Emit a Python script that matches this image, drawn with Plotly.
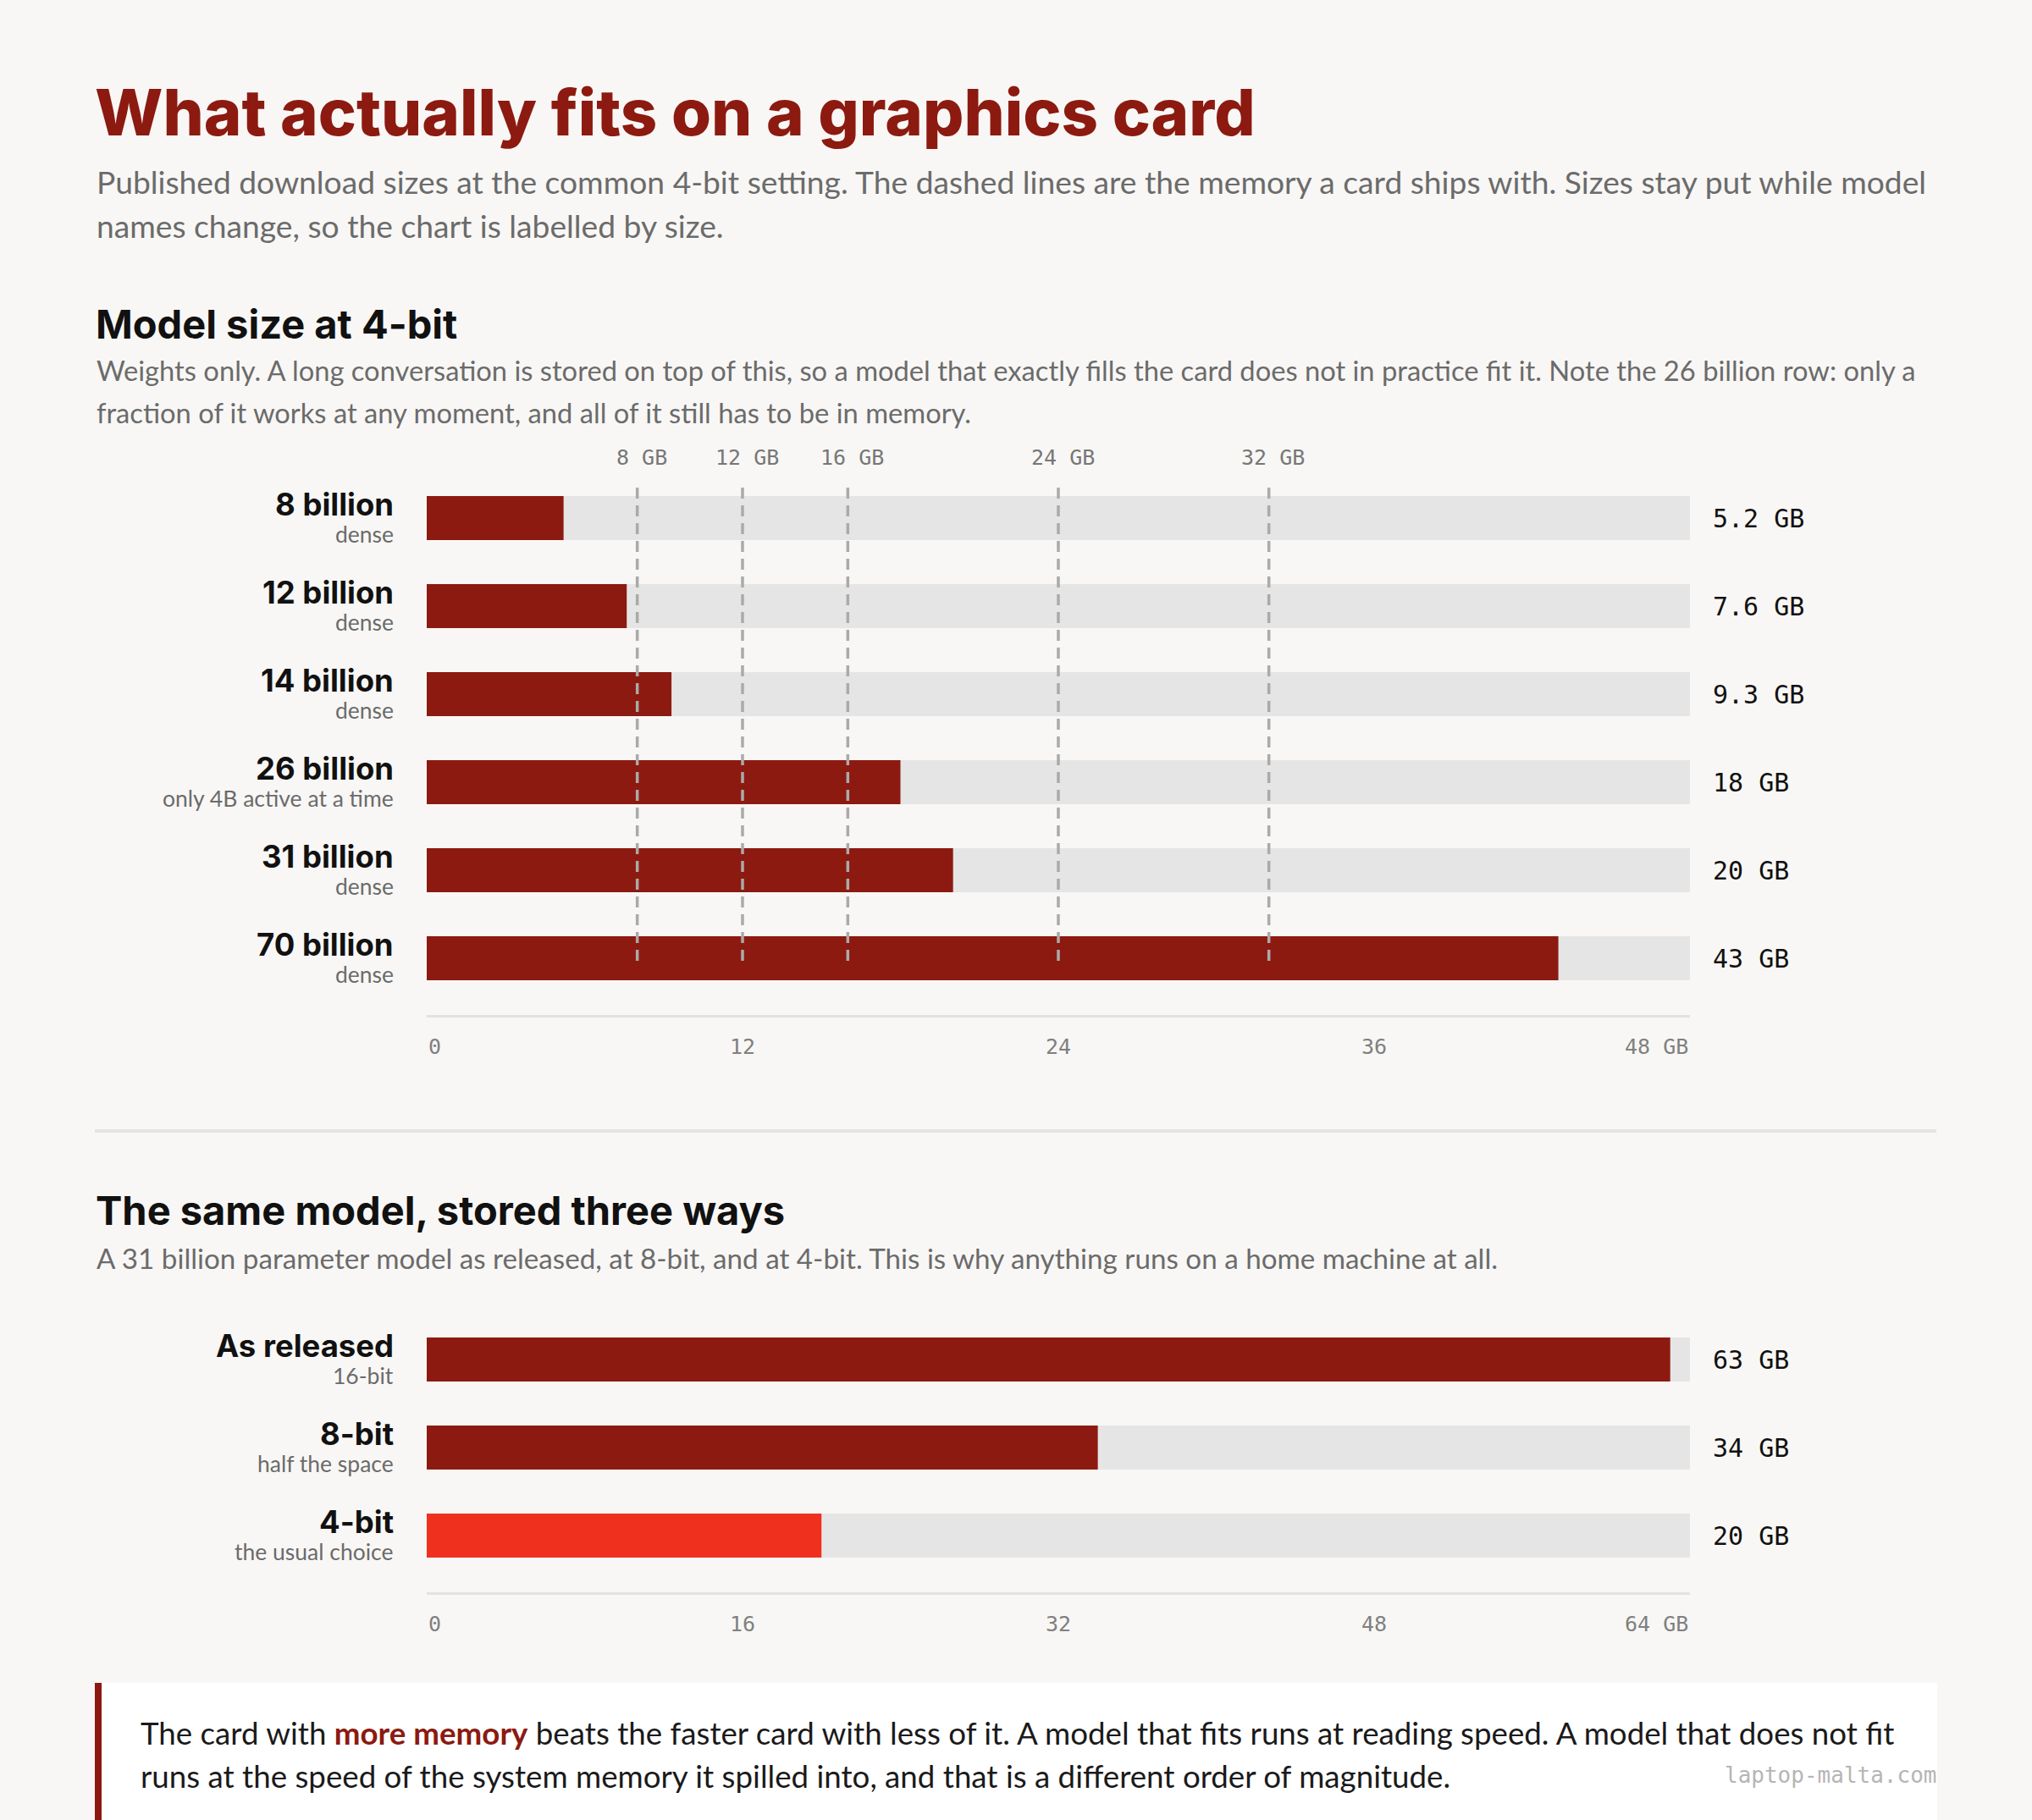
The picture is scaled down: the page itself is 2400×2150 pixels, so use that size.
import plotly.graph_objects as go

W, H = 2400, 2150
def X(r): return r / W
def Y(r): return 1 - r / H

# ---------------- data ----------------
sizes_labels = ["8 billion", "12 billion", "14 billion", "26 billion", "31 billion", "70 billion"]
sizes_notes = ["dense", "dense", "dense", "only 4B active at a time", "dense", "dense"]
sizes_gb = [5.2, 7.6, 9.3, 18, 20, 43]
sizes_text = ["5.2 GB", "7.6 GB", "9.3 GB", "18 GB", "20 GB", "43 GB"]
sizes_max = 48
sizes_ticks = [0, 12, 24, 36, 48]
sizes_ticktext = ["0", "12", "24", "36", "48 GB"]

card_gb = [8, 12, 16, 24, 32]
card_text = ["8 GB", "12 GB", "16 GB", "24 GB", "32 GB"]

prec_labels = ["As released", "8-bit", "4-bit"]
prec_notes = ["16-bit", "half the space", "the usual choice"]
prec_gb = [63, 34, 20]
prec_text = ["63 GB", "34 GB", "20 GB"]
prec_max = 64
prec_ticks = [0, 16, 32, 48, 64]
prec_ticktext = ["0", "16", "32", "48", "64 GB"]

# ---------------- style ----------------
BG = "#f8f7f5"
DARK = "#8c1a10"
BRIGHT = "#f0301e"
TRACK = "#e5e5e5"
INK = "#111111"
GREY = "#6b6b6b"
HEAD = "Inter"
BODY = "Lato"
MONO = "DejaVu Sans Mono"

fig = go.Figure()

# chart 1
fig.add_trace(go.Bar(y=sizes_labels, x=[sizes_max] * len(sizes_labels), orientation="h",
                     marker=dict(color=TRACK, line=dict(width=0)), width=0.5,
                     hoverinfo="skip", xaxis="x", yaxis="y"))
fig.add_trace(go.Bar(y=sizes_labels, x=sizes_gb, orientation="h",
                     marker=dict(color=DARK, line=dict(width=0)), width=0.5,
                     hoverinfo="skip", xaxis="x", yaxis="y"))
# chart 2
prec_colors = [DARK, DARK, BRIGHT]
fig.add_trace(go.Bar(y=prec_labels, x=[prec_max] * len(prec_labels), orientation="h",
                     marker=dict(color=TRACK, line=dict(width=0)), width=0.5,
                     hoverinfo="skip", xaxis="x2", yaxis="y2"))
fig.add_trace(go.Bar(y=prec_labels, x=prec_gb, orientation="h",
                     marker=dict(color=prec_colors, line=dict(width=0)), width=0.5,
                     hoverinfo="skip", xaxis="x2", yaxis="y2"))

ann = []
shapes = []

def text(x, y, s, size, color, family=BODY, weight=400, xanchor="left", xref="paper", yref="paper",
         yshift=0, xshift=0):
    ann.append(dict(x=x, y=y, xref=xref, yref=yref, text=s, showarrow=False,
                    xanchor=xanchor, yanchor="middle", yshift=yshift, xshift=xshift,
                    font=dict(size=size, color=color, family=family, weight=weight)))

# header
text(X(110), Y(132), "What actually fits on a graphics card", 76, DARK, HEAD, 800)
text(X(112), Y(215), "Published download sizes at the common 4-bit setting. The dashed lines are the memory a card ships with. Sizes stay put while model", 37.2, GREY)
text(X(112), Y(266), "names change, so the chart is labelled by size.", 37.2, GREY)

# section 1
text(X(111), Y(382), "Model size at 4-bit", 47, INK, HEAD, 700)
text(X(112), Y(438), "Weights only. A long conversation is stored on top of this, so a model that exactly fills the card does not in practice fit it. Note the 26 billion row: only a", 32.7, GREY)
text(X(112), Y(487), "fraction of it works at any moment, and all of it still has to be in memory.", 32.7, GREY)

for g, t in zip(card_gb, card_text):
    shapes.append(dict(type="line", xref="x", yref="paper", x0=g, x1=g, y0=Y(576), y1=Y(1136),
                       line=dict(color="#aaaaaa", width=3.5, dash="13px,8px")))
    text(g, Y(540), t, 25, "#777777", MONO, xanchor="center", xref="x", xshift=5)

for lab, note, v in zip(sizes_labels, sizes_notes, sizes_text):
    text(X(467), lab, f"<b>{lab}</b>", 36.5, INK, HEAD, 700, xanchor="right", yref="y", yshift=16)
    text(X(467), lab, note, 26.5, GREY, xanchor="right", yref="y", yshift=-19)
    text(X(2021), lab, v, 30, INK, MONO, yref="y")

shapes.append(dict(type="line", xref="x", yref="paper", x0=0, x1=sizes_max, y0=Y(1200.5), y1=Y(1200.5),
                   line=dict(color="#e2e2e2", width=3)))
for i, (tv, tt) in enumerate(zip(sizes_ticks, sizes_ticktext)):
    xa = "left" if i == 0 else ("right" if i == len(sizes_ticks) - 1 else "center")
    text(tv, Y(1236), tt, 25, "#808080", MONO, xanchor=xa, xref="x")

# divider
shapes.append(dict(type="line", xref="paper", yref="paper", x0=X(112), x1=X(2287), y0=Y(1336), y1=Y(1336),
                   line=dict(color="#e4e4e4", width=4)))

# section 2
text(X(111), Y(1429), "The same model, stored three ways", 47, INK, HEAD, 700)
text(X(112), Y(1486), "A 31 billion parameter model as released, at 8-bit, and at 4-bit. This is why anything runs on a home machine at all.", 33.2, GREY)

for lab, note, v in zip(prec_labels, prec_notes, prec_text):
    text(X(467), lab, f"<b>{lab}</b>", 36.5, INK, HEAD, 700, xanchor="right", yref="y2", yshift=16)
    text(X(467), lab, note, 26.5, GREY, xanchor="right", yref="y2", yshift=-19)
    text(X(2021), lab, v, 30, INK, MONO, yref="y2")

shapes.append(dict(type="line", xref="x2", yref="paper", x0=0, x1=prec_max, y0=Y(1882.5), y1=Y(1882.5),
                   line=dict(color="#e2e2e2", width=3)))
for i, (tv, tt) in enumerate(zip(prec_ticks, prec_ticktext)):
    xa = "left" if i == 0 else ("right" if i == len(prec_ticks) - 1 else "center")
    text(tv, Y(1918), tt, 25, "#808080", MONO, xanchor=xa, xref="x2")

# callout
shapes.append(dict(type="rect", xref="paper", yref="paper", x0=X(112), x1=X(2288), y0=Y(1988), y1=Y(2150),
                   fillcolor="#ffffff", line=dict(width=0), layer="below"))
shapes.append(dict(type="rect", xref="paper", yref="paper", x0=X(112), x1=X(120), y0=Y(1988), y1=Y(2150),
                   fillcolor=DARK, line=dict(width=0), layer="below"))
text(X(164), Y(2047), "The card with <b><span style='color:%s'>more memory</span></b> beats the faster card with less of it. A model that fits runs at reading speed. A model that does not fit" % DARK, 36.7, "#1a1a1a")
text(X(164), Y(2098), "runs at the speed of the system memory it spilled into, and that is a different order of magnitude.", 36.7, "#1a1a1a")
text(X(2289), Y(2097), "laptop-malta.com", 26, "#b5b5b5", MONO, xanchor="right")

fig.update_layout(
    width=W, height=H, margin=dict(l=0, r=0, t=0, b=0),
    paper_bgcolor=BG, plot_bgcolor="rgba(0,0,0,0)",
    barmode="overlay", showlegend=False,
    xaxis=dict(domain=[X(504), X(1996)], range=[0, sizes_max], visible=False, fixedrange=True),
    yaxis=dict(domain=[Y(1184), Y(560)], type="category", range=[len(sizes_labels) - 0.5, -0.5],
               visible=False, fixedrange=True),
    xaxis2=dict(domain=[X(504), X(1996)], range=[0, prec_max], visible=False, fixedrange=True, anchor="y2"),
    yaxis2=dict(domain=[Y(1866), Y(1554)], type="category", range=[len(prec_labels) - 0.5, -0.5],
                visible=False, fixedrange=True, anchor="x2"),
    annotations=ann, shapes=shapes,
)

fig.write_html("out.html", config={"displayModeBar": False},
               post_script="document.body.style.margin='0';document.body.style.background='%s';" % BG)
